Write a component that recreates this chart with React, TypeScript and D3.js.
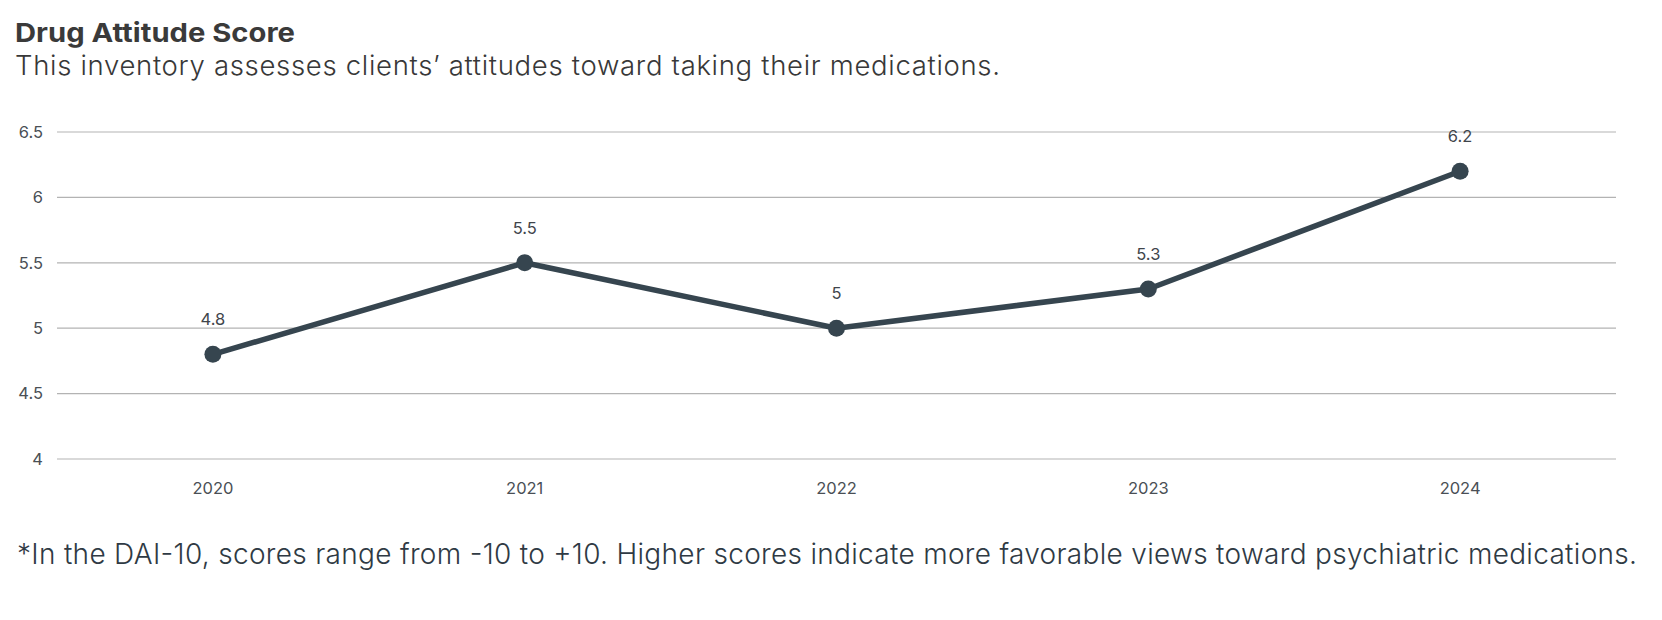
import React from 'react';
import * as d3 from 'd3';

const years = ['2020', '2021', '2022', '2023', '2024'];
const scores = [4.8, 5.5, 5.0, 5.3, 6.2];
const yTicks = [4, 4.5, 5, 5.5, 6, 6.5];

const title = 'Drug Attitude Score';
const subtitle = 'This inventory assesses clients\u2019 attitudes toward taking their medications.';
const footnote = '*In the DAI-10, scores range from -10 to +10. Higher scores indicate more favorable views toward psychiatric medications.';

const W = 1662;
const H = 620;
const FONT = 'Inter, "Noto Sans", sans-serif';

export default function App() {
  // plot area
  const left = 57;
  const right = 1616;
  const top = 132;
  const bottom = 459;

  const x = d3.scaleBand<string>().domain(years).range([left, right]).padding(0);
  const y = d3.scaleLinear().domain([4, 6.5]).range([bottom, top]);

  const cx = (d: string) => x(d)! + x.bandwidth() / 2;

  const line = d3.line<number>()
    .x((_, i) => cx(years[i]))
    .y(d => y(d));

  return (
    <div style={{ position: 'absolute', left: 0, top: 0 }}>
      <svg width={W} height={H} style={{ display: 'block', background: '#fff' }}>
        <text x={15} y={42} fontFamily={FONT} fontSize={26} fontWeight={700} fill="#3a3a3a"
          textLength={280} lengthAdjust="spacingAndGlyphs">
          {title}
        </text>
        <text x={15} y={75} fontFamily={FONT} fontSize={27.5} fontWeight={300} fill="#383838"
          textLength={985} lengthAdjust="spacing">
          {subtitle}
        </text>

        {/* gridlines + y tick labels */}
        {yTicks.map(t => (
          <g key={t}>
            <line x1={left} x2={right} y1={y(t)} y2={y(t)} stroke="#b3b3b3" strokeWidth={1.2} />
            <text x={43} y={y(t)} dy="0.35em" textAnchor="end" fontFamily={FONT}
              fontSize={16.5} fill="#4a4f55">
              {d3.format('~g')(t)}
            </text>
          </g>
        ))}

        {/* x labels */}
        {years.map(yr => (
          <text key={yr} x={cx(yr)} y={494} textAnchor="middle" fontFamily={FONT}
            fontSize={16.5} fill="#4a4f55">
            {yr}
          </text>
        ))}

        <path d={line(scores)!} fill="none" stroke="#36454f" strokeWidth={5.5}
          strokeLinejoin="round" />

        {scores.map((s, i) => (
          <g key={years[i]}>
            <circle cx={cx(years[i])} cy={y(s)} r={8.5} fill="#36454f" />
            <text x={cx(years[i])} y={y(s) - 29} textAnchor="middle" fontFamily={FONT}
              fontSize={16.5} fill="#3f454b">
              {d3.format('~g')(s)}
            </text>
          </g>
        ))}

        <text x={17} y={564} fontFamily={FONT} fontSize={28} fontWeight={300} fill="#2f3a44"
          textLength={1620} lengthAdjust="spacing">
          {footnote}
        </text>
      </svg>
    </div>
  );
}
